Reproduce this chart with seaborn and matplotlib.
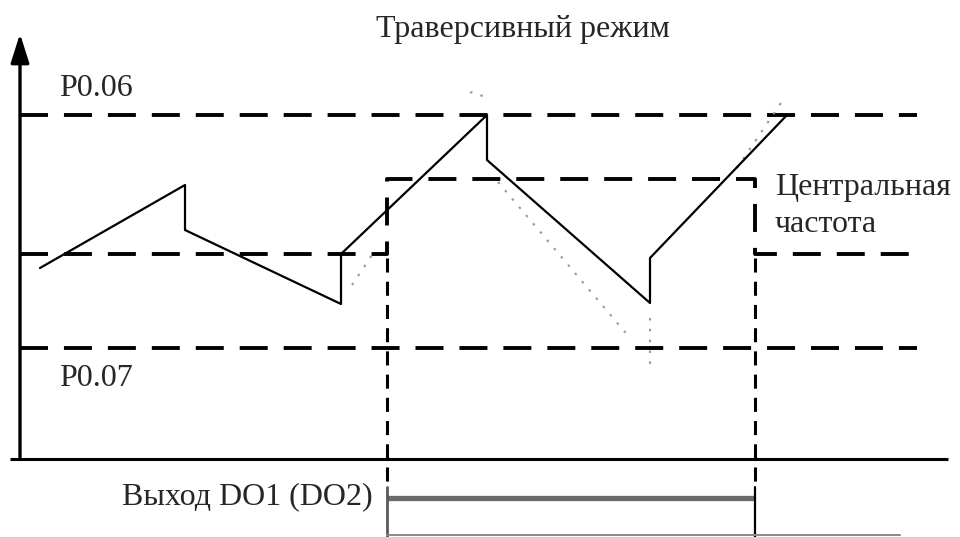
import matplotlib
matplotlib.use("Agg")
import matplotlib.pyplot as plt
import seaborn as sns
import pandas as pd

# picture units: x to the right, y downward (pixel-like grid of the diagram)
wave_x = [40, 185, 185, 341, 341, 487, 487, 650, 650, 787]
wave_y = [268, 185, 230, 304, 254, 115, 160, 303, 258, 115]

# faint scan traces next to the curve
trace_x = [[470, 489], [498, 630], [650, 650], [737, 783], [352, 372]]
trace_y = [[92, 98], [182, 338], [318, 366], [168, 100], [285, 255]]

level_p006 = 115
level_p007 = 348
level_center = 254
level_upper = 179
axis_x = 20
axis_y = 459
line_end = 917
do_on = 387
do_off = 755
do_level = 498

# center frequency band path (dashed)
center_x = [axis_x, do_on, do_on, do_off, do_off, line_end]
center_y = [level_center, level_center, level_upper, level_upper, level_center, level_center]

labels = {"title": "Траверсивный режим", "p006": "P0.06", "p007": "P0.07",
          "center1": "Центральная", "center2": "частота", "do": "Выход DO1 (DO2)"}

sns.set_style("white")
plt.rcParams["font.family"] = "serif"
plt.rcParams["font.serif"] = ["Liberation Serif", "DejaVu Serif"]

fig = plt.figure(figsize=(9.6, 5.37), dpi=100)
ax = fig.add_axes([0, 0, 1, 1])
ax.set_xlim(0, 960)
ax.set_ylim(537, 0)
ax.axis("off")

dash_kw = dict(color="black", lw=2.8, dashes=(7.2, 4.1))

# level lines
ax.plot([axis_x, line_end], [level_p006] * 2, **dash_kw)
ax.plot([axis_x, line_end], [level_p007] * 2, **dash_kw)
ax.plot(center_x, center_y, **dash_kw)

# drop lines to the output
for x in (do_on, do_off):
    ax.plot([x, x], [level_center + 4, 487], color="black", lw=2.2, dashes=(4.6, 3))

# scan traces
for tx, ty in zip(trace_x, trace_y):
    ax.plot(tx, ty, color="#9a9a9a", lw=1.5, dashes=(1.2, 4))

# frequency curve
wave = pd.DataFrame({"t": wave_x, "f": wave_y})
sns.lineplot(data=wave, x="t", y="f", sort=False, estimator=None,
             color="black", lw=1.6, ax=ax)

# axes with arrow
ax.plot([10, 948], [axis_y, axis_y], color="black", lw=2.2, solid_capstyle="butt")
ax.annotate("", xy=(axis_x, 31), xytext=(axis_x, axis_y + 1),
            arrowprops=dict(arrowstyle="-|>,head_length=1.1,head_width=0.35",
                            color="black", lw=2.4, mutation_scale=16))

# DO output
ax.plot([do_on, do_off], [do_level, do_level], color="#6a6a6a", lw=3.8, solid_capstyle="butt")
ax.plot([do_on, do_on], [487, 537], color="#5a5a5a", lw=2.0)
ax.plot([do_off, do_off], [487, 537], color="black", lw=1.6)
ax.plot([do_on, 900], [535, 535], color="#8a8a8a", lw=1.4)

fs = 23
ax.text(523, 30, labels["title"], fontsize=fs, ha="center", va="center")
ax.text(59, 88, labels["p006"], fontsize=fs, ha="left", va="center")
ax.text(59, 378, labels["p007"], fontsize=fs, ha="left", va="center")
ax.text(775, 187, labels["center1"], fontsize=fs, ha="left", va="center")
ax.text(775, 224, labels["center2"], fontsize=fs, ha="left", va="center")
ax.text(373, 497, labels["do"], fontsize=fs, ha="right", va="center")

fig.savefig("out.png", dpi=100)
